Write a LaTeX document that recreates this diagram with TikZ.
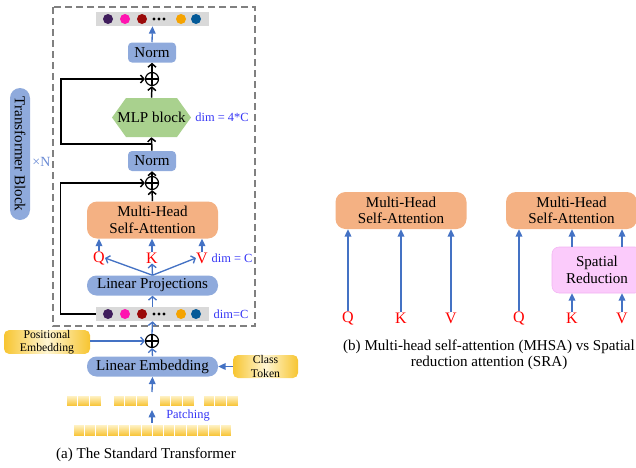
\documentclass[tikz,border=0pt]{standalone}
\usepackage{fontspec}
\setmainfont{Liberation Serif}
\usetikzlibrary{arrows.meta}

\newdimen\pxu \pxu=0.75pt
\definecolor{normblue}{HTML}{8FAADC}
\definecolor{mhsaorange}{HTML}{F4B183}
\definecolor{mlpgreen}{HTML}{A9D18E}
\definecolor{srpink}{HTML}{FBCBFB}
\definecolor{srborder}{HTML}{F2B2F2}
\definecolor{arrowblue}{HTML}{4472C4}
\definecolor{dimblue}{HTML}{3535F5}
\definecolor{xnblue}{HTML}{6C8CD5}
\definecolor{framegray}{HTML}{808080}
\definecolor{stripgray}{HTML}{D9D9D9}
\definecolor{tokpurple}{HTML}{3F1D5C}
\definecolor{tokpink}{HTML}{FF14B0}
\definecolor{tokred}{HTML}{9A0A0A}
\definecolor{tokorange}{HTML}{F5A300}
\definecolor{tokblue}{HTML}{045A98}
\definecolor{gold}{HTML}{F7C531}
\definecolor{palegold}{HTML}{FFF6D2}

\tikzset{
  mainfont/.style={font=\fontsize{11.3}{12.5}\selectfont},
  box/.style={mainfont, align=center, inner sep=0pt},
  normbox/.style={box, fill=normblue, rounded corners=4\pxu, minimum width=48\pxu, minimum height=20\pxu},
  pillbox/.style={box, fill=normblue, rounded corners=9.5\pxu, minimum width=131\pxu, minimum height=20\pxu},
  mhsabox/.style={box, fill=mhsaorange, rounded corners=10\pxu, minimum width=131\pxu, minimum height=37\pxu},
  srbox/.style={box, fill=srpink, draw=srborder, rounded corners=7\pxu, minimum width=90\pxu, minimum height=46\pxu},
  goldbox/.style={box, font=\fontsize{8.8}{9.8}\selectfont, rounded corners=5\pxu, left color=gold, right color=gold, middle color=palegold, minimum width=86\pxu, minimum height=22\pxu},
  strip/.style={fill=stripgray, minimum width=113\pxu, minimum height=14\pxu, inner sep=0pt},
  plus/.style={circle, draw=black, line width=0.9pt, minimum size=13\pxu, inner sep=0pt,
    path picture={\draw[line width=0.9pt] (path picture bounding box.north) -- (path picture bounding box.south)
      (path picture bounding box.west) -- (path picture bounding box.east);}},
  qkv/.style={font=\fontsize{12}{13}\selectfont, text=red, inner sep=0pt},
  dimlabel/.style={font=\fontsize{9.3}{10}\selectfont, text=dimblue, inner sep=0pt},
  caption/.style={mainfont, align=center, inner sep=0pt},
  patch/.style={draw=white, line width=0.4pt, top color=palegold, bottom color=gold!95!orange},
  bluearrow/.style={arrowblue, line width=1pt, -{Triangle[length=5.5pt,width=5pt]}},
  bluebarb/.style={arrowblue, line width=1pt, -{Straight Barb[length=2.6pt,width=6pt]}},
  blackbarb/.style={black, line width=1.1pt, -{Straight Barb[length=2.6pt,width=6pt]}}
}

\begin{document}
\begin{tikzpicture}[x=0.75pt, y=-0.75pt]
\clip (0,0) rectangle (636,468);

% Transformer block frame
\draw[framegray, line width=1.2\pxu, dash pattern=on 7\pxu off 4\pxu] (53,7) rectangle (255,326);

% token strips
\foreach \name/\y in {topstrip/19, botstrip/314} {
  \node[strip] (\name) at (152.5,\y) {};
  \foreach \c/\x in {tokpurple/108, tokpink/125, tokred/142, tokorange/181, tokblue/196}
    \fill[\c] (\x,\y) circle (5\pxu);
  \foreach \x in {154,159,164}
    \fill (\x,\y) circle (1.6\pxu);
}

% main column
\node[normbox] (normtop) at (152,52.5) {Norm};
\node[plus] (plustop) at (152,79) {};
\node[box, minimum width=79\pxu, minimum height=39\pxu,
  path picture={\fill[mlpgreen] (path picture bounding box.west)
    -- ([xshift=14\pxu]path picture bounding box.north west)
    -- ([xshift=-14\pxu]path picture bounding box.north east)
    -- (path picture bounding box.east)
    -- ([xshift=-14\pxu]path picture bounding box.south east)
    -- ([xshift=14\pxu]path picture bounding box.south west) -- cycle;}] (mlp) at (151.5,117.5) {MLP block};
\node[dimlabel] (dimmlp) at (222,117) {dim = 4*C};
\node[normbox] (normmid) at (152,161) {Norm};
\node[plus] (plusmid) at (152,183) {};
\node[mhsabox] (mhsa) at (152.5,220) {Multi-Head\\Self-Attention};
\node[qkv] (q) at (99,258) {Q};
\node[qkv] (k) at (152,258) {K};
\node[qkv] (v) at (202,258) {V};
\node[dimlabel] (dimqkv) at (232,258) {dim = C};
\node[pillbox] (lp) at (152.5,285.5) {Linear Projections};
\node[dimlabel] (dimstrip) at (231,314) {dim=C};
\node[plus] (plusbot) at (152,341) {};
\node[goldbox] (pe) at (47,342) {Positional\\Embedding};
\node[pillbox] (le) at (152.5,366.5) {Linear Embedding};
\node[goldbox, minimum width=65\pxu, minimum height=23\pxu] (ct) at (265.5,366.5) {Class\\Token};

% patches
\foreach \gx in {66,113,159,203}
  \foreach \i in {0,1,2}
    \shade[patch] (\gx+\i*11.7,395) rectangle ++(11.7,11);
\foreach \i in {0,...,13}
  \shade[patch] (73+\i*11.3,424) rectangle ++(11.3,12);
\coordinate (patchtop) at (152,392);
\coordinate (patchbot) at (152,410);
\coordinate (rowtop) at (152,423);
\node[dimlabel] (patching) at (188,416) {Patching};

% side label
\node[box, fill=normblue, rounded corners=10\pxu, minimum width=132\pxu, minimum height=20\pxu, rotate=-90] (tblock) at (20,154) {Transformer Block};
\node[font=\fontsize{10.5}{11}\selectfont, text=xnblue, inner sep=0pt] (times) at (41.5,162) {×N};

% residual paths
\coordinate (split) at (152,144);
\draw[blackbarb] (normmid.north) -- (mlp.south);
\draw[blackbarb] (mlp.north) -- (plustop.south);
\draw[blackbarb] (plustop.north) -- (normtop.south);
\draw[blackbarb] (split) -- ++(-91,0) |- (plustop.west);
\draw[blackbarb] (mhsa.north) -- (plusmid.south);
\draw[blackbarb] (plusmid.north) -- (normmid.south);
\draw[blackbarb] (botstrip.west) -- ++(-35,0) |- (plusmid.west);
\draw[bluearrow] (normtop.north) -- (topstrip.south);

% attention inputs
\foreach \n in {q,k,v}
  \draw[bluearrow] (\n.north) -- (\n.north |- mhsa.south);
\draw[bluebarb] (lp.north) -- (q.east);
\draw[bluebarb] (lp.north) -- (k.south);
\draw[bluebarb] (lp.north) -- (v.west);
\draw[bluebarb] (botstrip.north) -- (lp.south);
\draw[bluebarb] (plusbot.north) -- (botstrip.south);
\draw[bluebarb] (le.north) -- (plusbot.south);
\draw[bluebarb] (pe.east |- plusbot) -- (plusbot.west);
\draw[bluearrow] (ct.west) -- (le.east);
\draw[bluearrow] (patchtop) -- (le.south);
\draw[bluearrow] (rowtop) -- (patchbot);

\node[caption] (capa) at (146,455) {(a) The Standard Transformer};

% (b) MHSA vs SRA
\node[mhsabox] (mhsaA) at (401,210.5) {Multi-Head\\Self-Attention};
\node[qkv] (qA) at (348,318) {Q};
\node[qkv] (kA) at (401,318) {K};
\node[qkv] (vA) at (451,318) {V};
\foreach \n in {qA,kA,vA}
  \draw[bluearrow] (\n.north) -- (\n.north |- mhsaA.south);

\node[mhsabox] (mhsaB) at (571.5,210.5) {Multi-Head\\Self-Attention};
\node[srbox] (sr) at (597,270) {Spatial\\Reduction};
\node[qkv] (qB) at (519,318) {Q};
\node[qkv] (kB) at (572,318) {K};
\node[qkv] (vB) at (622,318) {V};
\draw[bluearrow] (qB.north) -- (qB.north |- mhsaB.south);
\foreach \n in {kB,vB} {
  \draw[bluearrow] (\n.north) -- (\n.north |- sr.south);
  \draw[bluearrow] (\n.north |- sr.north) -- (\n.north |- mhsaB.south);
}

\node[caption, font=\fontsize{11.3}{12}\selectfont] (capb) at (489,355) {(b) Multi-head self-attention (MHSA) vs Spatial\\reduction attention (SRA)};
\end{tikzpicture}
\end{document}
